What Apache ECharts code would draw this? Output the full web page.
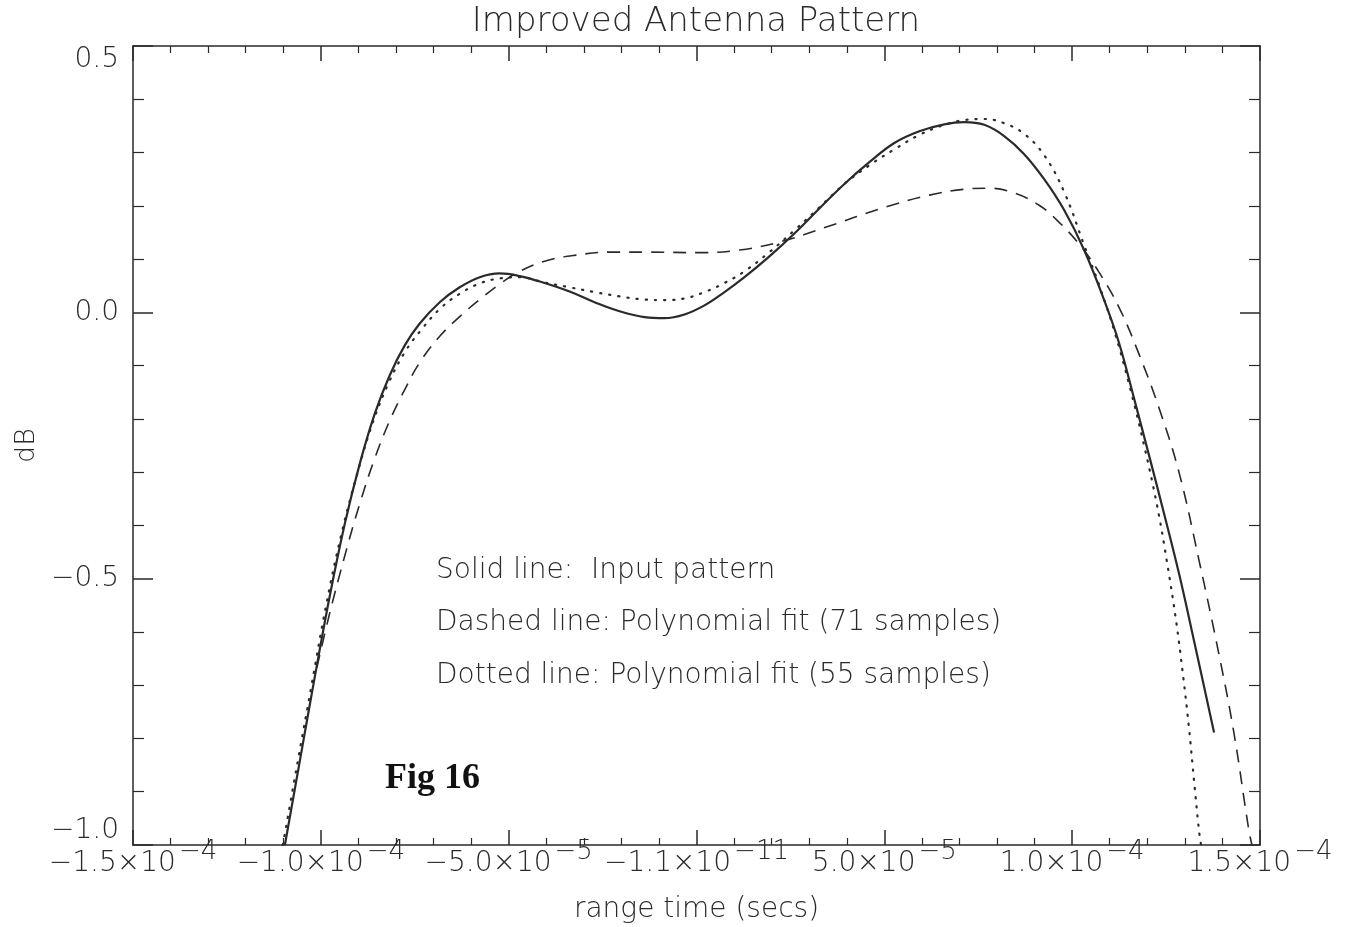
<!DOCTYPE html>
<html><head><meta charset="utf-8">
<script src="https://cdn.jsdelivr.net/npm/echarts@6/dist/echarts.min.js"></script>
<style>html,body{margin:0;padding:0;background:#fff}#c{width:1347px;height:927px}</style>
</head><body><div id="c"></div>
<script>
// range time in units of 1e-5 s
const xTickBase = ['−1.5×10','−1.0×10','−5.0×10','−1.1×10','5.0×10','1.0×10','1.5×10'];
const xTickExp  = ['−4','−4','−5','−11','−5','−4','−4'];
const yTickLabels = ['−1.0','−0.5','0.0','0.5'];

// Solid line: input pattern
const solidX = [-10.957,-10.559,-10.160,-9.761,-9.362,-8.963,-8.564,-8.165,-7.766,-7.367,-6.835,-6.303,-5.771,-5.239,-4.707,-4.043,-3.378,-2.713,-2.048,-1.383,-0.851,-0.319,0.213,0.745,1.277,1.941,2.606,3.271,3.936,4.601,5.266,5.931,6.596,7.128,7.660,8.191,8.723,9.255,9.787,10.319,10.851,11.250,11.649,12.048,12.447,12.846,13.245,13.777];
const solidY = [-1.0,-0.842,-0.684,-0.532,-0.397,-0.284,-0.190,-0.118,-0.062,-0.021,0.019,0.047,0.066,0.073,0.068,0.055,0.039,0.019,0.002,-0.009,-0.011,-0.004,0.013,0.038,0.066,0.105,0.148,0.195,0.241,0.282,0.318,0.340,0.353,0.357,0.352,0.331,0.297,0.250,0.192,0.117,0.023,-0.058,-0.162,-0.269,-0.378,-0.491,-0.617,-0.789];

// Dashed line: polynomial fit (71 samples)
const dashedX = [-10.106,-9.761,-9.362,-8.963,-8.564,-8.165,-7.766,-7.367,-6.835,-6.303,-5.771,-5.239,-4.707,-4.043,-3.245,-2.314,-1.250,0.080,1.144,2.207,3.537,4.867,6.197,7.128,7.793,8.457,9.122,9.654,10.186,10.718,11.250,11.782,12.314,12.846,13.378,13.910,14.309,14.707,14.787];
const dashedY = [-0.667,-0.564,-0.457,-0.359,-0.274,-0.203,-0.145,-0.094,-0.045,-0.008,0.024,0.053,0.077,0.096,0.107,0.113,0.113,0.112,0.117,0.132,0.162,0.194,0.220,0.231,0.233,0.224,0.201,0.169,0.128,0.075,0.009,-0.079,-0.180,-0.301,-0.466,-0.643,-0.791,-0.974,-1.0];

// Dotted line: polynomial fit (55 samples)
const dottedX = [-11.011,-10.612,-10.239,-9.867,-9.468,-9.043,-8.617,-8.191,-7.766,-7.340,-6.809,-6.277,-5.745,-5.213,-4.707,-4.043,-3.378,-2.713,-2.048,-1.383,-0.851,-0.319,0.213,0.745,1.277,1.941,2.606,3.271,3.936,4.601,5.266,5.931,6.596,7.128,7.660,8.191,8.723,9.255,9.787,10.319,10.718,11.117,11.516,11.915,12.261,12.527,12.766,12.952,13.112,13.245,13.378,13.431];
const dottedY = [-1.0,-0.842,-0.697,-0.553,-0.421,-0.306,-0.207,-0.132,-0.075,-0.034,0.008,0.036,0.055,0.064,0.066,0.056,0.047,0.038,0.030,0.024,0.023,0.026,0.038,0.055,0.077,0.113,0.154,0.197,0.241,0.276,0.306,0.333,0.352,0.361,0.363,0.355,0.335,0.295,0.226,0.126,0.051,-0.034,-0.135,-0.250,-0.363,-0.470,-0.579,-0.682,-0.782,-0.880,-0.974,-1.0];

const pairs = (xs, ys) => xs.map((x, i) => [x, ys[i]]);
const INK = '#2a2a2a';
const FONT = 'DejaVu Sans';
const FW = 200;

const chart = echarts.init(document.getElementById('c'), null, {renderer: 'canvas'});

const frameX = (pos, labels) => ({
  type: 'value', position: pos, min: -15, max: 15, interval: 5,
  axisLine: {show: true, onZero: false, lineStyle: {color: INK, width: 1.5}},
  axisTick: {show: true, inside: true, length: 15, lineStyle: {color: INK, width: 1.5}},
  minorTick: {show: true, splitNumber: 5, length: 7, lineStyle: {color: INK, width: 1.2}},
  splitLine: {show: false}, minorSplitLine: {show: false},
  axisLabel: labels ? {
    show: true, margin: 5, color: INK,
    formatter: v => {
      const i = Math.round(v / 5) + 3;
      return '{b|' + xTickBase[i] + '}{s|' + xTickExp[i] + '}';
    },
    rich: {
      b: {fontFamily: FONT, fontSize: 28, fontWeight: FW, color: INK, lineHeight: 28, verticalAlign: 'bottom'},
      s: {fontFamily: FONT, fontSize: 26, fontWeight: FW, color: INK, lineHeight: 28, verticalAlign: 'bottom', padding: [0, 0, 13, 3]}
    }
  } : {show: false}
});
const frameY = (pos, labels) => ({
  type: 'value', position: pos, min: -1, max: 0.5, interval: 0.5,
  axisLine: {show: true, onZero: false, lineStyle: {color: INK, width: 1.5}},
  axisTick: {show: true, inside: true, length: 20, lineStyle: {color: INK, width: 1.5}},
  minorTick: {show: true, splitNumber: 5, length: 11, lineStyle: {color: INK, width: 1.2}},
  splitLine: {show: false}, minorSplitLine: {show: false},
  axisLabel: labels ? {
    show: true, margin: 14, color: INK, fontFamily: FONT, fontSize: 28, fontWeight: FW,
    verticalAlignMinLabel: 'bottom', verticalAlignMaxLabel: 'top',
    formatter: v => yTickLabels[Math.round((v + 1) / 0.5)]
  } : {show: false}
});

const xb = frameX('bottom', true);
xb.name = 'range time (secs)';
xb.nameLocation = 'middle';
xb.nameGap = 51;
xb.nameTextStyle = {fontFamily: FONT, fontSize: 28, fontWeight: FW, color: INK};
const yl = frameY('left', true);
yl.name = 'dB';
yl.nameLocation = 'middle';
yl.nameGap = 72;
yl.nameRotate = 90;
yl.nameTextStyle = {fontFamily: FONT, fontSize: 27, fontWeight: FW, color: INK};

const lineSeries = (name, xs, ys, ls) => ({
  name, type: 'line', xAxisIndex: 0, yAxisIndex: 0,
  data: pairs(xs, ys), smooth: 0.4, symbol: 'none', clip: true,
  lineStyle: Object.assign({color: INK}, ls), silent: true, animation: false
});

const txt = (s, x, y, size, extra) => ({
  type: 'text', x, y, silent: true,
  style: Object.assign({text: s, fontFamily: FONT, fontSize: size, fontWeight: FW, fill: INK, verticalAlign: 'middle'}, extra || {})
});

chart.setOption({
  backgroundColor: '#fff',
  animation: false,
  grid: {left: 133, right: 87, top: 46, bottom: 82, containLabel: false, outerBoundsMode: 'none'},
  xAxis: [xb, frameX('top', false)],
  yAxis: [yl, frameY('right', false)],
  series: [
    lineSeries('Input pattern', solidX, solidY, {width: 2.2, type: 'solid'}),
    lineSeries('Polynomial fit (71 samples)', dashedX, dashedY, {width: 1.6, type: [13, 9]}),
    lineSeries('Polynomial fit (55 samples)', dottedX, dottedY, {width: 2.2, type: [1.2, 8], cap: 'round'})
  ],
  graphic: [
    txt('Improved Antenna Pattern', 696, 22, 34, {align: 'center'}),
    txt('Solid line:  Input pattern', 436, 571, 28),
    txt('Dashed line: Polynomial fit (71 samples)', 436, 623, 28),
    txt('Dotted line: Polynomial fit (55 samples)', 436, 676, 28),
    txt('Fig 16', 385, 779, 36, {fontFamily: 'Liberation Serif', fontWeight: 'bold', fill: '#111'})
  ]
});
</script></body></html>
